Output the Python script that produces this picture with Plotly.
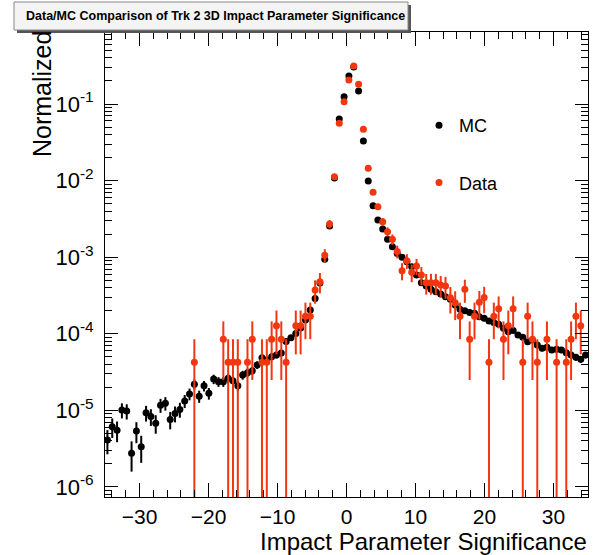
import numpy as np
import plotly.graph_objects as go

# Histogram binning (100 bins from -35 to 35)
BIN_LO, BIN_HI, N_BINS = -35.0, 35.0, 100
bin_edges = np.linspace(BIN_LO, BIN_HI, N_BINS + 1)
bin_centers = 0.5 * (bin_edges[:-1] + bin_edges[1:])

# MC normalized values
mc_values = [
    4.1e-6, 6.1e-6, 5.5e-6, 1.01e-5, 9.8e-6, 2.76e-6, 5.37e-6, 3.36e-6, 9.3e-6, 8.3e-6,
    6.8e-6, 1.17e-5, 1.24e-5, 7.6e-6, 9.1e-6, 1.03e-5, 1.33e-5, 1.64e-5, 2.2e-5, 1.53e-5,
    2.09e-5, 1.67e-5, 2.56e-5, 2.37e-5, 2.37e-5, 2.63e-5, 2.43e-5, 2.1e-5, 2.9e-5, 3.1e-5,
    3.3e-5, 3.92e-5, 4.85e-5, 4.55e-5, 5.0e-5, 5.28e-5, 5.6e-5, 7.9e-5, 8.9e-5, 1.01e-4,
    1.19e-4, 1.51e-4, 2.05e-4, 2.89e-4, 4.6e-4, 9.4e-4, 2.55e-3, 1.08e-2, 6.37e-2, 1.246e-1,
    2.32e-1, 3.05e-1, 1.48e-1, 3.29e-2, 9.89e-3, 4.7e-3, 3.06e-3, 2.33e-3, 1.71e-3, 1.37e-3,
    1.12e-3, 1.0e-3, 8.7e-4, 7.5e-4, 5.86e-4, 4.65e-4, 4.2e-4, 3.81e-4, 3.55e-4, 3.31e-4,
    3.05e-4, 2.82e-4, 2.38e-4, 2.09e-4, 2.0e-4, 1.89e-4, 1.85e-4, 1.67e-4, 1.59e-4, 1.47e-4,
    1.4e-4, 1.33e-4, 1.18e-4, 1.06e-4, 1.1e-4, 9.64e-5, 9.0e-5, 7.88e-5, 8.3e-5, 7.14e-5,
    6.46e-5, 6.67e-5, 6.15e-5, 6.28e-5, 6.15e-5, 5.67e-5, 5.28e-5, 4.93e-5, 4.64e-5, 5.28e-5,
]

# Data normalized values (None = empty bin)
data_values = [
    None, None, None, None, None, None, None, None, None, None,
    None, None, None, None, None, None, None, None, 4.25e-5, None,
    None, None, None, None, 8.5e-5, 4.25e-5, 4.25e-5, 4.25e-5, None, 4.25e-5,
    8.5e-5, None, 4.25e-5, 4.25e-5, 8.5e-5, 1.275e-4, 8.5e-5, 4.25e-5, None, 1.275e-4,
    1.275e-4, 1.7e-4, 1.7e-4, 3.73e-4, 4.79e-4, 1.06e-3, 2.71e-3, 1.125e-2, 5.6e-2, 1.07e-1,
    2.05e-1, 3.13e-1, 1.81e-1, 4.67e-2, 1.449e-2, 7.03e-3, 4.56e-3, 2.9e-3, 2.15e-3, 1.71e-3,
    1.19e-3, 6.67e-4, 9.0e-4, 6.35e-4, 7.67e-4, 5.86e-4, 4.65e-4, 4.65e-4, 4.65e-4, 4.33e-4,
    4.2e-4, 2.96e-4, 2.55e-4, 1.7e-4, 3.81e-4, 8.5e-5, 1.7e-4, 2.58e-4, 2.98e-4, 4.25e-5,
    1.7e-4, 2.125e-4, 8.5e-5, 1.275e-4, 2.125e-4, None, 4.25e-5, 1.7e-4, 8.5e-5, 4.25e-5,
    None, 8.5e-5, None, 4.25e-5, None, 4.25e-5, 8.5e-5, 1.7e-4, 1.275e-4, None,
]

# per-event weights used for Poisson error bars
MC_WEIGHT = 5e-7
DATA_WEIGHT = 4.25e-5

y_tick_vals = [1e-6, 1e-5, 1e-4, 1e-3, 1e-2, 1e-1]
y_tick_text = ["10<sup>-6</sup>", "10<sup>-5</sup>", "10<sup>-4</sup>",
               "10<sup>-3</sup>", "10<sup>-2</sup>", "10<sup>-1</sup>"]
x_tick_vals = [-30, -20, -10, 0, 10, 20, 30]

FONT = "Liberation Sans, Arial, Helvetica, sans-serif"
RED = "#f2360f"

mc_arr = np.array(mc_values, dtype=float)
mc_err = np.sqrt(mc_arr * MC_WEIGHT)

dx = [c for c, v in zip(bin_centers, data_values) if v is not None]
dy = np.array([v for v in data_values if v is not None], dtype=float)
d_err = np.sqrt(dy * DATA_WEIGHT)

fig = go.Figure()
fig.add_trace(go.Scatter(
    x=bin_centers, y=mc_arr, mode="markers", name="MC", legendgroup="mc",
    marker=dict(color="black", size=7),
    error_y=dict(type="data", array=mc_err, color="black", thickness=2, width=0),
))
fig.add_trace(go.Scatter(
    x=dx, y=dy, mode="markers", name="Data", legendgroup="data",
    marker=dict(color=RED, size=7),
    error_y=dict(type="data", array=d_err, color=RED, thickness=2, width=0),
))

L, R, T, B = 105, 13, 32, 58
W, H = 601, 555
pw, ph = W - L - R, H - T - B


def px_x(p):
    return (p - L) / pw


def px_y(p):
    return 1 - (p - T) / ph


fig.update_layout(
    width=W, height=H,
    margin=dict(l=L, r=R, t=T, b=B, pad=0),
    paper_bgcolor="white", plot_bgcolor="white",
    font=dict(family=FONT, color="black"),
    showlegend=True,
    legend=dict(
        x=px_x(419), y=px_y(107), xanchor="left", yanchor="top",
        font=dict(size=18, family=FONT), bgcolor="rgba(0,0,0,0)",
        traceorder="grouped", tracegroupgap=31, itemwidth=30,
    ),
    xaxis=dict(
        range=[BIN_LO, BIN_HI], tickvals=x_tick_vals, ticks="inside", ticklen=14,
        tickwidth=1, tickcolor="black", showline=True, linecolor="black", linewidth=1,
        mirror="ticks", showgrid=False, zeroline=False,
        tickfont=dict(size=21, family=FONT), ticklabelstandoff=1,
        minor=dict(dtick=2, tick0=0, ticks="inside", ticklen=7, tickcolor="black", showgrid=False),
    ),
    yaxis=dict(
        type="log", range=[-6.131, -0.060], tickvals=y_tick_vals, ticktext=y_tick_text,
        ticks="inside", ticklen=13, tickwidth=1, tickcolor="black", showline=True,
        linecolor="black", linewidth=1, mirror="ticks", showgrid=False, zeroline=False,
        tickfont=dict(size=22, family=FONT), ticklabelstandoff=6,
        minor=dict(tickvals=[m * 10.0 ** e for e in range(-7, 0) for m in range(2, 10)],
                   ticks="inside", ticklen=7, tickcolor="black", showgrid=False),
    ),
)

# title pave with shadow
fig.add_shape(type="rect", xref="paper", yref="paper",
              x0=px_x(17), x1=px_x(411), y0=px_y(33), y1=px_y(5),
              fillcolor="#555555", line=dict(width=0), layer="above")
fig.add_shape(type="rect", xref="paper", yref="paper",
              x0=px_x(14), x1=px_x(408), y0=px_y(30), y1=px_y(2),
              fillcolor="#f4f4f4", line=dict(color="#888888", width=1), layer="above")
fig.add_annotation(xref="paper", yref="paper", x=px_x(215), y=px_y(16),
                   text="<b>Data/MC Comparison of Trk 2 3D Impact Parameter Significance</b>",
                   showarrow=False, xanchor="center", yanchor="middle",
                   font=dict(size=12.5, family=FONT, color="black"))

# axis titles (ROOT style: right/top aligned)
fig.add_annotation(xref="paper", yref="paper", x=px_x(589), y=px_y(541),
                   text="Impact Parameter Significance", showarrow=False,
                   xanchor="right", yanchor="middle", font=dict(size=24, family=FONT))
fig.add_annotation(xref="paper", yref="paper", x=px_x(42), y=px_y(29),
                   text="Normalized", showarrow=False, textangle=-90,
                   xanchor="center", yanchor="top", font=dict(size=25, family=FONT))

fig.write_html("out.html")
